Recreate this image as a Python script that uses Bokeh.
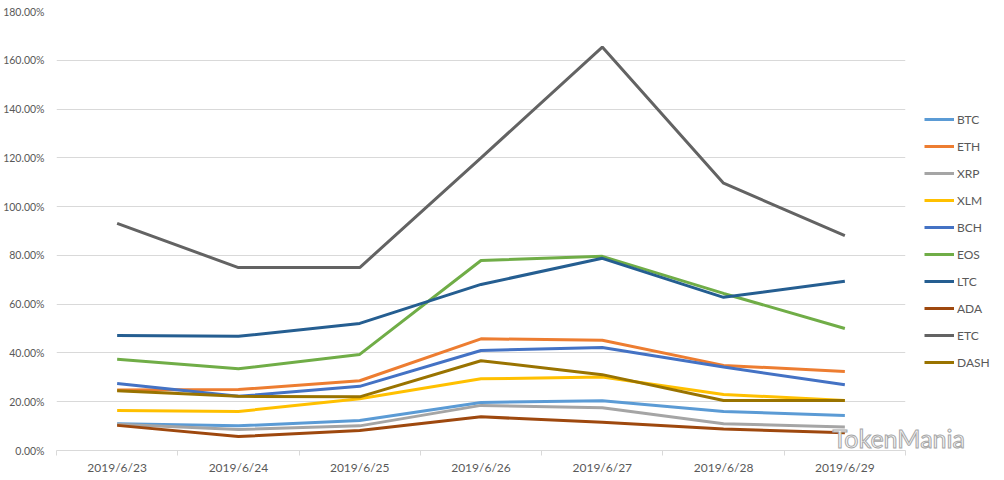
from bokeh.plotting import figure
from bokeh.models import FixedTicker, NumeralTickFormatter, Label, Legend, LegendItem
from bokeh.embed import file_html
from bokeh.resources import INLINE

dates = ["2019/6/23", "2019/6/24", "2019/6/25", "2019/6/26", "2019/6/27", "2019/6/28", "2019/6/29"]

BTC = [0.110, 0.101, 0.123, 0.197, 0.204, 0.160, 0.144]
ETH = [0.248, 0.250, 0.286, 0.458, 0.452, 0.349, 0.324]
XRP = [0.108, 0.086, 0.101, 0.185, 0.175, 0.110, 0.096]
XLM = [0.164, 0.160, 0.212, 0.294, 0.301, 0.230, 0.205]
BCH = [0.275, 0.222, 0.263, 0.410, 0.422, 0.342, 0.270]
EOS = [0.374, 0.335, 0.394, 0.779, 0.796, 0.644, 0.500]
LTC = [0.472, 0.468, 0.521, 0.681, 0.788, 0.628, 0.694]
ADA = [0.103, 0.057, 0.082, 0.138, 0.116, 0.088, 0.073]
ETC = [0.931, 0.750, 0.750, 1.200, 1.654, 1.096, 0.881]
DASH = [0.245, 0.222, 0.220, 0.368, 0.311, 0.205, 0.205]

series = [
    ("BTC", BTC, "#5B9BD5"),
    ("ETH", ETH, "#ED7D31"),
    ("XRP", XRP, "#A5A5A5"),
    ("XLM", XLM, "#FFC000"),
    ("BCH", BCH, "#4472C4"),
    ("EOS", EOS, "#70AD47"),
    ("LTC", LTC, "#255E91"),
    ("ADA", ADA, "#9E480E"),
    ("ETC", ETC, "#636363"),
    ("DASH", DASH, "#997300"),
]

xs = [i + 0.5 for i in range(len(dates))]
bounds = [float(i) for i in range(len(dates) + 1)]

FONT = "Lato"
TXT = "#595959"

p = figure(frame_width=849, frame_height=439, min_border_left=56, min_border_right=91,
           min_border_top=11, min_border_bottom=22, x_range=(0, len(dates)), y_range=(0, 1.8),
           output_backend="svg", toolbar_location=None)
p.outline_line_color = None
p.background_fill_color = "white"
p.border_fill_color = "white"

items = []
for name, vals, col in series:
    r = p.line(xs, vals, line_color=col, line_width=3)
    items.append(LegendItem(label=name, renderers=[r]))

# x axis
p.xaxis.ticker = FixedTicker(ticks=xs, minor_ticks=bounds)
p.xaxis.major_label_overrides = {x: d for x, d in zip(xs, dates)}
p.xaxis.major_tick_line_color = None
p.xaxis.major_tick_out = 0
p.xaxis.minor_tick_out = 5
p.xaxis.minor_tick_in = 0
p.xaxis.minor_tick_line_color = "#D9D9D9"
p.xaxis.axis_line_color = "#D9D9D9"
p.xaxis.major_label_standoff = 4
p.xaxis.major_label_text_font = FONT
p.xaxis.major_label_text_font_size = "12px"
p.xaxis.major_label_text_color = TXT
p.xgrid.grid_line_color = None

# y axis
p.yaxis.ticker = FixedTicker(ticks=[i * 0.2 for i in range(10)])
p.yaxis.formatter = NumeralTickFormatter(format="0.00%")
p.yaxis.axis_line_color = None
p.yaxis.major_tick_line_color = None
p.yaxis.minor_tick_line_color = None
p.yaxis.major_tick_out = 0
p.yaxis.major_label_standoff = 12
p.yaxis.major_label_text_font = FONT
p.yaxis.major_label_text_font_size = "10.5px"
p.yaxis.major_label_text_color = TXT
p.ygrid.grid_line_color = "#D9D9D9"
p.ygrid.grid_line_width = 1

# legend in right panel
lg = Legend(items=items, location=(19, 78), padding=0, margin=0, spacing=7,
            glyph_width=30, glyph_height=20, label_height=20, label_standoff=3,
            border_line_color=None, background_fill_alpha=0,
            label_text_font=FONT, label_text_font_size="12px", label_text_color=TXT)
p.add_layout(lg, "right")

# watermark
wm = Label(x=776, y=70, x_units="screen", y_units="screen", text="TokenMania",
           text_font=FONT, text_font_size="25px", text_font_style="normal",
           text_color="#FAFAFA", text_outline_color="#A6A6A6", text_baseline="alphabetic")
p.add_layout(wm, "below")

open("out.html", "w").write(file_html(p, INLINE))
